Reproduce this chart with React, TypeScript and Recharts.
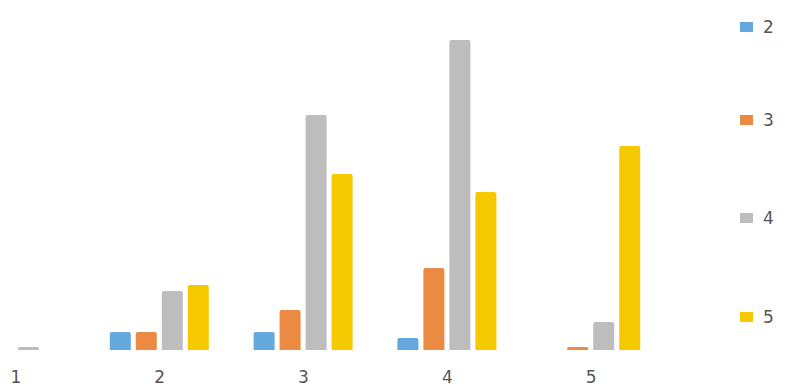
import { BarChart, Bar, XAxis, YAxis } from "recharts";

const categories = ["1", "2", "3", "4", "5"];
const seriesNames = ["2", "3", "4", "5"];
const seriesColors = ["#63a9de", "#ea8a43", "#bdbdbd", "#f5c800"];

// heights (no y axis shown, so units are arbitrary)
const values2 = [0, 18, 18, 12, 0];
const values3 = [0, 18, 40, 82, 3];
const values4 = [3, 59, 235, 310, 28];
const values5 = [0, 65, 176, 158, 204];

const seriesValues = [values2, values3, values4, values5];

const data = categories.map((cat, i) => {
  const row: Record<string, string | number> = { cat };
  seriesNames.forEach((name, s) => {
    row["s" + name] = seriesValues[s][i];
  });
  return row;
});

const legendTops = [27, 120, 218, 317];

export default function App() {
  return (
    <div
      style={{
        position: "fixed",
        left: 0,
        top: 0,
        width: 785,
        height: 387,
        overflow: "hidden",
        background: "#fff",
        fontFamily: "DejaVu Sans, sans-serif",
      }}
    >
      <div style={{ position: "absolute", left: -100, top: 0 }}>
        <BarChart
          width={900}
          height={387}
          data={data}
          margin={{ top: 20, right: 137, bottom: 0, left: 44 }}
          barSize={21}
          barGap={5}
        >
          <XAxis
            dataKey="cat"
            height={37}
            axisLine={false}
            tickLine={false}
            tickMargin={15}
            tick={{ fill: "#555", fontSize: 17, fontFamily: "DejaVu Sans" }}
          />
          <YAxis hide domain={[0, 330]} />
          {seriesNames.map((name, s) => (
            <Bar
              key={name}
              dataKey={"s" + name}
              name={name}
              fill={seriesColors[s]}
              radius={[2, 2, 0, 0]}
              isAnimationActive={false}
            />
          ))}
        </BarChart>
      </div>
      {seriesNames.map((name, s) => (
        <div
          key={name}
          style={{
            position: "absolute",
            left: 740,
            top: legendTops[s] - 11,
            height: 22,
            display: "flex",
            alignItems: "center",
            color: "#555",
            fontSize: 17,
          }}
        >
          <span
            style={{
              display: "inline-block",
              width: 13,
              height: 10,
              background: seriesColors[s],
              marginRight: 10,
            }}
          />
          {name}
        </div>
      ))}
    </div>
  );
}
